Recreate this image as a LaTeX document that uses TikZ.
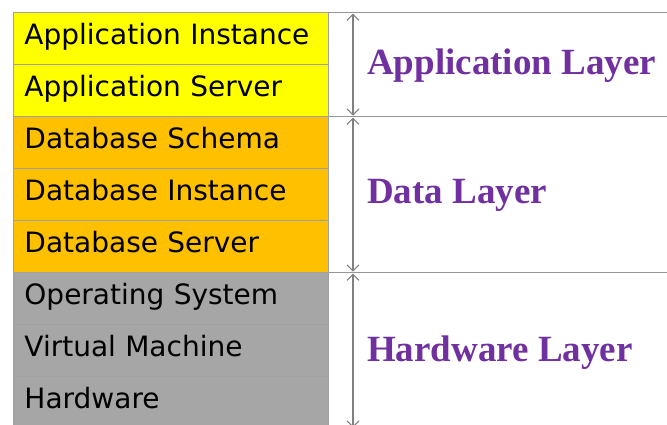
\documentclass[tikz,border=0pt]{standalone}
\usepackage{fontspec}
\setmainfont{Liberation Serif}
\newfontfamily\cellfont{DejaVu Sans}
\usetikzlibrary{arrows.meta}
\definecolor{appyellow}{RGB}{255,255,0}
\definecolor{dataorange}{RGB}{255,192,0}
\definecolor{hwgray}{RGB}{166,166,166}
\definecolor{layerpurple}{RGB}{112,48,160}
\definecolor{edgegray}{RGB}{160,160,160}
\definecolor{framegray}{RGB}{150,150,150}
\tikzset{>={Straight Barb[length=6pt,width=12pt]}}
\tikzset{
  cell/.style={draw=edgegray,line width=0.9pt,anchor=north west,
    minimum width=315pt,minimum height=52pt,text width=293pt,inner xsep=11pt,
    align=left,text height=18pt,text depth=6pt,
    font=\cellfont\fontsize{28}{34}\selectfont},
  layerbox/.style={draw=framegray,line width=1.2pt,anchor=north west,
    minimum width=380pt,inner sep=0pt},
  layerlabel/.style={anchor=base west,inner sep=0pt,text=layerpurple,
    font=\fontsize{37}{40}\selectfont\bfseries},
  span/.style={<->,draw=gray,line width=1.2pt}
}

\begin{document}
\begin{tikzpicture}[x=1pt,y=-1pt]
\useasboundingbox (0,0) rectangle (667,424);
% right column
\node [layerbox,minimum height=104pt] (applayer) at (328,12) {};
\node [layerbox,minimum height=156pt] (datalayer) at (328,116) {};
\node [layerbox,minimum height=156pt] (hwlayer) at (328,272) {};
% stack of cells
\node [cell,fill=appyellow] (appinst) at (13,12) {Application Instance};
\node [cell,fill=appyellow] (appserv) at (13,64) {Application Server};
\node [cell,fill=dataorange] (dbschema) at (13,116) {Database Schema};
\node [cell,fill=dataorange] (dbinst) at (13,168) {Database Instance};
\node [cell,fill=dataorange] (dbserv) at (13,220) {Database Server};
\node [cell,fill=hwgray] (os) at (13,272) {Operating System};
\node [cell,fill=hwgray] (vm) at (13,324) {Virtual Machine};
\node [cell,fill=hwgray] (hw) at (13,376) {Hardware};
% spans
\draw [span] ([xshift=25pt,yshift=-1.5pt]applayer.north west) -- ([xshift=25pt,yshift=1.5pt]applayer.south west);
\draw [span] ([xshift=25pt,yshift=-1.5pt]datalayer.north west) -- ([xshift=25pt,yshift=1.5pt]datalayer.south west);
\draw [span] ([xshift=25pt,yshift=-1.5pt]hwlayer.north west) -- ([xshift=25pt,yshift=1.5pt]hwlayer.south west);
\node [layerlabel] (applabel) at (367,74) {Application Layer};
\node [layerlabel] (datalabel) at (367,203) {Data Layer};
\node [layerlabel] (hwlabel) at (367,361) {Hardware Layer};
\end{tikzpicture}
\end{document}
